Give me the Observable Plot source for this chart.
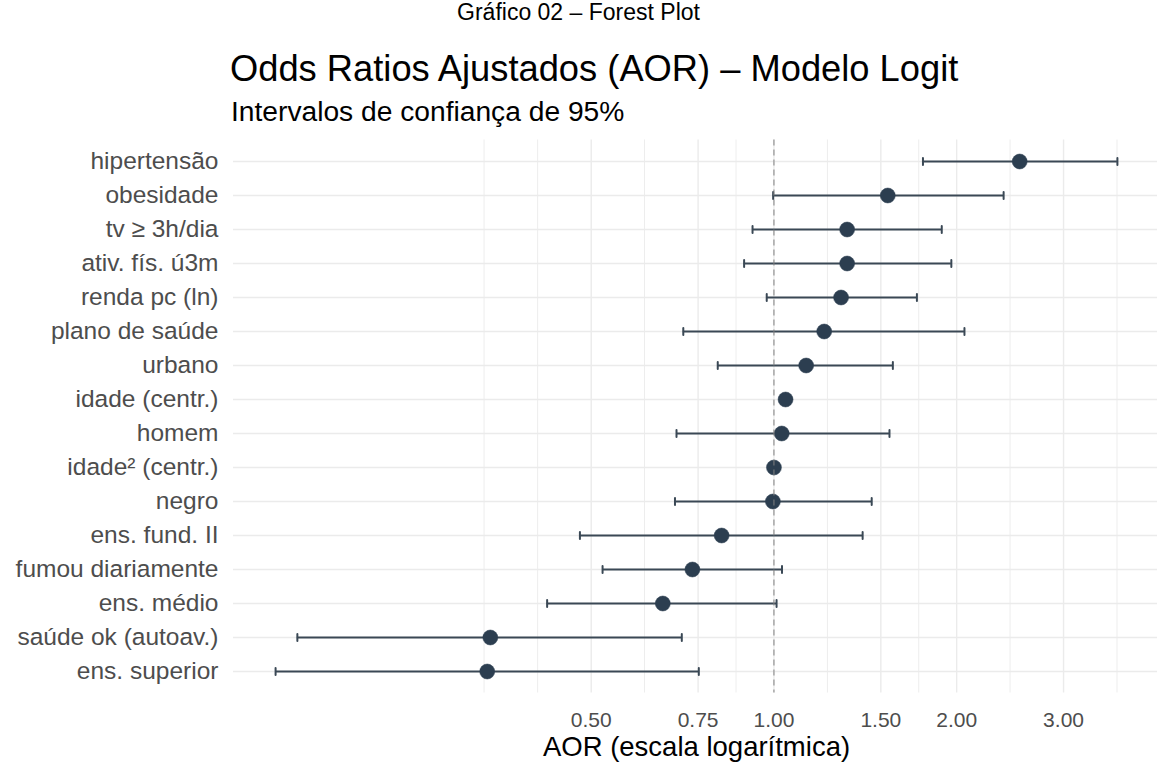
<!DOCTYPE html>
<html>
<head>
<meta charset="utf-8">
<script src="https://cdn.jsdelivr.net/npm/d3@7"></script>
<script src="https://cdn.jsdelivr.net/npm/@observablehq/plot@0.6"></script>
<style>
  html, body { margin: 0; padding: 0; background: #fff; }
  body { font-family: "Liberation Sans", Arial, sans-serif; width: 1157px; overflow: hidden; }
  #head { position: relative; height: 130px; width: 1157px; color: #000; }
  #head div { position: absolute; white-space: nowrap; }
  #cap { top: 1px; left: 0; width: 1157px; text-align: center; font-size: 23px; line-height: 23px; }
  #title { top: 51px; left: 230px; font-size: 36.3px; line-height: 36.3px; }
  #sub { top: 97px; left: 231px; font-size: 28.2px; line-height: 28.2px; }
  svg { display: block; }
</style>
</head>
<body>
<div id="head">
  <div id="cap">Gráfico 02 – Forest Plot</div>
  <div id="title">Odds Ratios Ajustados (AOR) – Modelo Logit</div>
  <div id="sub">Intervalos de confiança de 95%</div>
</div>
<div id="chart"></div>
<script>
// Variables (top to bottom)
const labels = ["hipertensão", "obesidade", "tv ≥ 3h/dia", "ativ. fís. ú3m", "renda pc (ln)", "plano de saúde", "urbano", "idade (centr.)", "homem", "idade² (centr.)", "negro", "ens. fund. II", "fumou diariamente", "ens. médio", "saúde ok (autoav.)", "ens. superior"];
// Adjusted odds ratios
const aor = [2.54, 1.54, 1.32, 1.32, 1.29, 1.21, 1.13, 1.045, 1.03, 1.00, 0.996, 0.82, 0.734, 0.656, 0.341, 0.337];
// 95% CI lower bounds
const ciLow = [1.76, 0.997, 0.922, 0.893, 0.973, 0.709, 0.808, 1.035, 0.691, 0.999, 0.687, 0.479, 0.522, 0.423, 0.164, 0.151];
// 95% CI upper bounds
const ciHigh = [3.68, 2.39, 1.89, 1.96, 1.72, 2.06, 1.57, 1.055, 1.55, 1.001, 1.449, 1.40, 1.031, 1.010, 0.705, 0.752];
// Axis breaks
const xTicks = [0.5, 0.75, 1, 1.5, 2, 3];
const xMinorGrid = [0.333, 0.408, 0.612, 0.866, 1.225, 1.732, 2.449, 3.674];
const xTitle = "AOR (escala logarítmica)";

const data = labels.map((label, i) => ({label, aor: aor[i], lo: ciLow[i], hi: ciHigh[i]}));

const lnMin = Math.log(d3.min(ciLow)), lnMax = Math.log(d3.max(ciHigh));
const pad = (lnMax - lnMin) * 0.05;
const xDomain = [Math.exp(lnMin - pad), Math.exp(lnMax + pad)];

const navy = "#2c3e50";
const bar = "#3a4855";
const grid = "#ebebeb";
const capShape = {draw(ctx, l) { ctx.moveTo(0, l / 2); ctx.lineTo(0, -l / 2); }};

const chart = Plot.plot({
  width: 1157,
  height: 639,
  marginLeft: 233,
  marginRight: -2,
  marginTop: 9.5,
  marginBottom: 76.5,
  style: {fontFamily: "'Liberation Sans', Arial, sans-serif", background: "#fff"},
  x: {type: "log", domain: xDomain},
  y: {type: "point", domain: labels, padding: 0.6},
  marks: [
    Plot.ruleX(xMinorGrid, {stroke: grid, strokeWidth: 0.9}),
    Plot.ruleX(xTicks, {stroke: grid, strokeWidth: 1.4}),
    Plot.ruleY(labels, {stroke: grid, strokeWidth: 1.4}),
    Plot.ruleY(data, {y: "label", x1: "lo", x2: "hi", stroke: bar, strokeWidth: 2}),
    Plot.vector(data, {x: "lo", y: "label", length: 7, rotate: 0, anchor: "start", shape: capShape, stroke: bar, strokeWidth: 2}),
    Plot.vector(data, {x: "hi", y: "label", length: 7, rotate: 0, anchor: "start", shape: capShape, stroke: bar, strokeWidth: 2}),
    Plot.dot(data, {x: "aor", y: "label", r: 7.5, fill: navy, stroke: navy, strokeWidth: 0.5}),
    Plot.ruleX([1], {stroke: "#808080", strokeWidth: 1, strokeDasharray: "6,4"}),
    Plot.axisY({tickSize: 0, tickPadding: 15, fontSize: 24.5, fill: "#4d4d4d", label: null}),
    Plot.axisX({ticks: xTicks, tickFormat: d3.format(".2f"), tickSize: 0, tickPadding: 19, fontSize: 21, fill: "#4d4d4d", label: null}),
    Plot.text([xTitle], {text: d => d, frameAnchor: "bottom", dy: 62.5, fontSize: 27.5, fill: "#000"})
  ]
});
document.getElementById("chart").appendChild(chart);
</script>
</body>
</html>
